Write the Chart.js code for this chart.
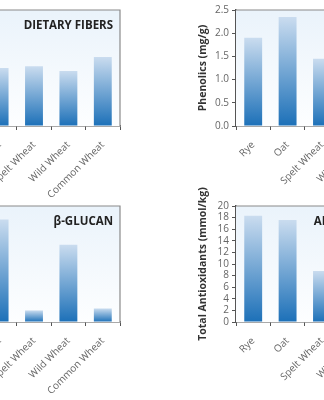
<!DOCTYPE html>
<html>
<head>
<meta charset="utf-8">
<script src="https://cdn.jsdelivr.net/npm/chart.js@4/dist/chart.umd.min.js"></script>
<style>
  html, body { margin: 0; padding: 0; background: #fff; overflow: hidden; }
  #wrap { position: relative; width: 324px; height: 400px; overflow: hidden; }
  canvas { position: absolute; }
</style>
</head>
<body>
<div id="wrap">
  <canvas id="fibers" width="221" height="200" style="left:-93px;top:0px"></canvas>
  <canvas id="phenolics" width="221" height="200" style="left:195px;top:0px"></canvas>
  <canvas id="glucan" width="221" height="210" style="left:-93px;top:186px"></canvas>
  <canvas id="antiox" width="221" height="210" style="left:195px;top:186px"></canvas>
</div>
<script>
const grains = ['Rye', 'Oat', 'Spelt Wheat', 'Wild Wheat', 'Common Wheat'];

const fibers = [15, 10, 10.3, 9.5, 11.9];
const phenolics = [1.9, 2.35, 1.45, 1.2, 1.0];
const glucan = [2.0, 5.3, 0.6, 4.0, 0.7];
const antioxidants = [18.3, 17.6, 8.8, 9.5, 7.5];

const fontFam = '"Open Sans", "DejaVu Sans", sans-serif';

// pale blue plot background + grey frame on top/right, and the panel title
const panelPlugin = {
  id: 'panel',
  beforeDatasetsDraw(chart) {
    const a = chart.chartArea, c = chart.ctx;
    const g = c.createLinearGradient(0, a.top, 0, a.bottom);
    g.addColorStop(0, '#eaf3fb');
    g.addColorStop(1, '#fdfeff');
    c.save();
    c.fillStyle = g;
    c.fillRect(a.left, a.top, a.right - a.left, a.bottom - a.top);
    c.restore();
  },
  afterDraw(chart, args, opts) {
    const a = chart.chartArea, c = chart.ctx;
    c.save();
    c.strokeStyle = '#8a8a8a';
    c.lineWidth = 1.2;
    c.beginPath();
    c.moveTo(a.left, a.top);
    c.lineTo(a.right, a.top);
    c.lineTo(a.right, a.bottom);
    c.stroke();
    c.fillStyle = '#222';
    c.font = 'bold 11.5px ' + fontFam;
    c.textAlign = 'right';
    c.textBaseline = 'middle';
    c.fillText(opts.text, a.right - 7, a.top + 16);
    c.restore();
  }
};

function barFill(ctx) {
  const chart = ctx.chart;
  if (!chart.chartArea) return '#4a8fcf';
  const y = chart.scales.y;
  const top = y.getPixelForValue(ctx.raw);
  const bottom = y.getPixelForValue(0);
  const g = chart.ctx.createLinearGradient(0, top, 0, bottom);
  g.addColorStop(0, '#cadcef');
  g.addColorStop(1, '#1c70b8');
  return g;
}

function makeChart(id, values, title, yTitle, yMax, yStep, decimals, padTop) {
  return new Chart(document.getElementById(id), {
    type: 'bar',
    data: {
      labels: grains,
      datasets: [{
        data: values,
        backgroundColor: barFill,
        borderWidth: 0,
        categoryPercentage: 1,
        barPercentage: 0.52
      }]
    },
    options: {
      responsive: false,
      animation: false,
      layout: { padding: { top: padTop, right: 8, left: 0, bottom: 0 } },
      plugins: {
        legend: { display: false },
        tooltip: { enabled: false },
        panel: { text: title }
      },
      scales: {
        x: {
          afterFit(s) { s.height = 74; },
          border: { color: '#555', width: 1.5 },
          grid: { drawOnChartArea: false, drawTicks: true, tickLength: 4, color: '#555', offset: true },
          ticks: {
            color: '#666',
            font: { family: fontFam, size: 10 },
            maxRotation: 45, minRotation: 45, padding: 9,
            autoSkip: false
          }
        },
        y: {
          min: 0, max: yMax,
          afterFit(s) { s.width = 41; },
          border: { color: '#555', width: 1.5 },
          grid: { drawOnChartArea: false, drawTicks: true, tickLength: 4, color: '#555' },
          ticks: {
            stepSize: yStep,
            autoSkip: false,
            color: '#666',
            padding: 3,
            font: { family: fontFam, size: 10 },
            callback: v => v.toFixed(decimals)
          },
          title: {
            display: true,
            text: yTitle,
            color: '#333',
            padding: { top: 2, bottom: 2 },
            font: { family: fontFam, size: 10.5, weight: 'bold' }
          }
        }
      }
    },
    plugins: [panelPlugin]
  });
}

makeChart('fibers', fibers, 'DIETARY FIBERS', 'Dietary Fibers (g/100g)', 20, 5, 0, 10);
makeChart('phenolics', phenolics, 'PHENOLICS', 'Phenolics (mg/g)', 2.5, 0.5, 1, 10);
makeChart('glucan', glucan, 'β-GLUCAN', 'β-Glucan (g/100g)', 6, 1, 0, 20);
makeChart('antiox', antioxidants, 'ANTIOXIDANTS', 'Total Antioxidants (mmol/kg)', 20, 2, 0, 20);
</script>
</body>
</html>
